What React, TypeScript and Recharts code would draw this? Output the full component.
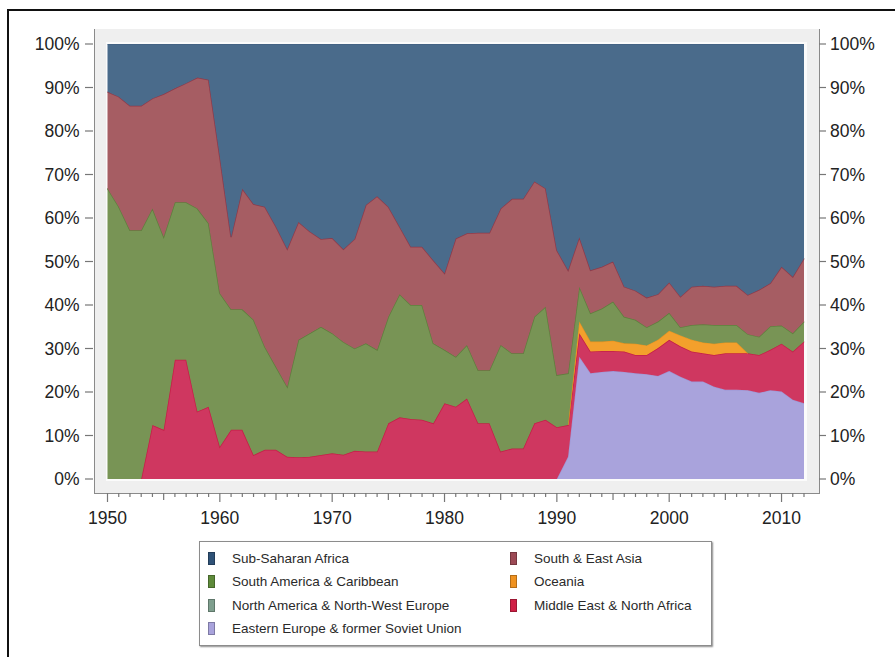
import React from 'react';
import { AreaChart, Area, XAxis, YAxis } from 'recharts';

const years = [
  1950, 1951, 1952, 1953, 1954, 1955, 1956, 1957, 1958, 1959,
  1960, 1961, 1962, 1963, 1964, 1965, 1966, 1967, 1968, 1969,
  1970, 1971, 1972, 1973, 1974, 1975, 1976, 1977, 1978, 1979,
  1980, 1981, 1982, 1983, 1984, 1985, 1986, 1987, 1988, 1989,
  1990, 1991, 1992, 1993, 1994, 1995, 1996, 1997, 1998, 1999,
  2000, 2001, 2002, 2003, 2004, 2005, 2006, 2007, 2008, 2009,
  2010, 2011, 2012,
];

const N = null;

// Eastern Europe & former Soviet Union
const easternEurope = [
  N, N, N, N, N, N, N, N, N, N,
  N, N, N, N, N, N, N, N, N, N,
  N, N, N, N, N, N, N, N, N, N,
  N, N, N, N, N, N, N, N, N, N,
  0, 5.1, 28.1, 24.3, 24.6, 24.8, 24.6, 24.3, 24.1, 23.7,
  24.8, 23.5, 22.4, 22.4, 21.2, 20.5, 20.5, 20.4, 19.8, 20.4,
  20.1, 18.2, 17.4,
];

// Middle East & North Africa
const middleEast = [
  N, N, N, 0, 12.4, 11.3, 27.4, 27.4, 15.5, 16.6,
  7.4, 11.3, 11.3, 5.5, 6.7, 6.7, 5.1, 5.0, 5.1, 5.5,
  5.9, 5.6, 6.5, 6.3, 6.3, 12.8, 14.2, 13.8, 13.6, 12.8,
  17.4, 16.6, 18.5, 12.8, 12.8, 6.3, 7.0, 7.0, 12.8, 13.6,
  11.9, 7.3, 5.4, 5.0, 4.8, 4.6, 4.7, 4.2, 4.4, 6.4,
  7.2, 7.0, 6.9, 6.5, 7.3, 8.4, 8.4, 8.5, 8.7, 9.3,
  11.0, 11.1, 14.2,
];

// Oceania
const oceania = [
  N, N, N, N, N, N, N, N, N, N,
  N, N, N, N, N, N, N, N, N, N,
  N, N, N, N, N, N, N, N, N, N,
  N, N, N, N, N, N, N, N, N, N,
  N, 0, 2.7, 2.3, 2.2, 2.4, 1.9, 2.6, 2.2, 1.9,
  2.1, 2.5, 2.7, 2.5, 2.6, 2.5, 2.5, 0, N, N,
  N, N, N,
];

// North America & North-West Europe
const northAmerica = [
  0, 0, 0, 0, 0, 0, 0, 0, 0, 0,
  0, 0, 0, 0, 0, 0, 0, 0, 0, 0,
  0, 0, 0, 0, 0, 0, 0, 0, 0, 0,
  0, 0, 0, 0, 0, 0, 0, 0, 0, 0,
  0, 0, 0, 0, 0, 0, 0, 0, 0, 0,
  0, 0, 0, 0, 0, 0, 0, 0, 0, 0,
  0, 0, 0,
];

// South America & Caribbean
const southAmerica = [
  66.8, 62.6, 57.2, 57.2, 49.8, 44.4, 36.2, 36.2, 46.7, 42.2,
  35.3, 27.7, 27.7, 31.1, 23.7, 19.1, 16.1, 27.0, 28.4, 29.5,
  27.6, 25.9, 23.5, 24.9, 23.4, 24.5, 28.3, 26.2, 26.4, 18.4,
  12.3, 11.5, 12.3, 12.2, 12.2, 24.5, 21.9, 21.9, 24.5, 26.0,
  12.0, 11.9, 8.0, 6.5, 7.6, 9.0, 6.1, 5.5, 4.2, 4.2,
  4.1, 1.9, 3.4, 4.2, 4.3, 4.0, 4.0, 4.4, 4.2, 5.4,
  4.2, 4.2, 4.6,
];

// South & East Asia
const southEastAsia = [
  22.2, 25.3, 28.6, 28.6, 25.3, 32.8, 26.2, 27.4, 30.1, 33.0,
  31.3, 16.6, 27.7, 26.6, 32.2, 32.2, 31.7, 27.1, 23.4, 20.2,
  21.9, 21.3, 25.2, 31.8, 35.3, 25.3, 15.5, 13.4, 13.4, 19.1,
  17.6, 27.2, 25.7, 31.6, 31.6, 31.4, 35.5, 35.5, 31.1, 27.2,
  28.7, 23.7, 11.4, 9.9, 9.6, 9.2, 6.9, 6.7, 6.8, 6.3,
  7.0, 7.0, 8.8, 8.8, 8.8, 9.0, 9.0, 9.0, 10.8, 9.9,
  13.5, 13.0, 14.5,
];

// Sub-Saharan Africa
const subSaharan = [
  11.0, 12.1, 14.2, 14.2, 12.5, 11.5, 10.2, 9.0, 7.7, 8.2,
  26.0, 44.4, 33.3, 36.8, 37.4, 42.0, 47.1, 40.9, 43.1, 44.8,
  44.6, 47.2, 44.8, 37.0, 35.0, 37.4, 42.0, 46.6, 46.6, 49.7,
  52.7, 44.7, 43.5, 43.4, 43.4, 37.8, 35.6, 35.6, 31.6, 33.2,
  47.4, 52.0, 44.4, 52.0, 51.2, 50.0, 55.8, 56.7, 58.3, 57.5,
  54.8, 58.1, 55.8, 55.6, 55.8, 55.6, 55.6, 57.7, 56.5, 55.0,
  51.2, 53.5, 49.3,
];

const yTicks = [0, 10, 20, 30, 40, 50, 60, 70, 80, 90, 100];

// bottom-to-top stacking order
const series = [
  { key: 'ee', name: 'Eastern Europe & former Soviet Union', values: easternEurope, fill: '#a9a3dc', stroke: '#9d97d6', sw: 1.2 },
  { key: 'mena', name: 'Middle East & North Africa', values: middleEast, fill: '#cf3760', stroke: '#c51f47', sw: 1.5 },
  { key: 'oc', name: 'Oceania', values: oceania, fill: '#f3a02c', stroke: '#ea921c', sw: 1.2 },
  { key: 'na', name: 'North America & North-West Europe', values: northAmerica, fill: '#7f9f8e', stroke: 'none', sw: 0 },
  { key: 'sa', name: 'South America & Caribbean', values: southAmerica, fill: '#789455', stroke: '#5f7f3d', sw: 1.5 },
  { key: 'sea', name: 'South & East Asia', values: southEastAsia, fill: '#a65d63', stroke: '#8f3a4a', sw: 1.5 },
  { key: 'ssa', name: 'Sub-Saharan Africa', values: subSaharan, fill: '#4a6b8b', stroke: '#3e5d7e', sw: 1 },
];

const legendLeft = ['ssa', 'sa', 'na', 'ee'];
const legendRight = ['sea', 'oc', 'mena'];
const legendSwatch: Record<string, string> = {
  ssa: '#2f5277',
  sa: '#5e8a3a',
  na: '#7f9f8e',
  ee: '#a9a3dc',
  sea: '#9c4a55',
  oc: '#ef9220',
  mena: '#cf1f45',
};

const data = years.map((year, i) => {
  const row: Record<string, number | null> = { year };
  series.forEach((s) => {
    row[s.key] = s.values[i];
  });
  return row;
});

const FONT = '"Liberation Sans", Arial, sans-serif';

const LeftTick = (props: any) => {
  const { x, y, payload } = props;
  return (
    <g>
      <line x1={x - 22.5} x2={x - 14.5} y1={y} y2={y} stroke="#777" strokeWidth={1.2} />
      <text x={x - 28} y={y} dy="0.36em" textAnchor="end" fontSize={17.5} fontFamily={FONT} fill="#222">
        {payload.value}%
      </text>
    </g>
  );
};

const RightTick = (props: any) => {
  const { x, y, payload } = props;
  return (
    <g>
      <line x1={x + 15} x2={x + 22} y1={y} y2={y} stroke="#777" strokeWidth={1.2} />
      <text x={x + 26} y={y} dy="0.36em" textAnchor="start" fontSize={17.5} fontFamily={FONT} fill="#222">
        {payload.value}%
      </text>
    </g>
  );
};

const BottomTick = (props: any) => {
  const { x, y, payload } = props;
  const v = payload.value as number;
  const major = v % 10 === 0;
  const mid = v % 5 === 0;
  const len = major ? 9 : mid ? 7 : 4;
  return (
    <g>
      <line x1={x} x2={x} y1={y + 14} y2={y + 14 + len} stroke="#777" strokeWidth={1.2} />
      {major && (
        <text x={x} y={y + 39} dy="0.36em" textAnchor="middle" fontSize={17.5} fontFamily={FONT} fill="#222">
          {v}
        </text>
      )}
    </g>
  );
};

const byKey = (k: string) => series.find((s) => s.key === k)!;

const LegendItem = ({ k, left, top }: { k: string; left: number; top: number }) => (
  <div style={{ position: 'absolute', left, top, height: 20, display: 'flex', alignItems: 'center' }}>
    <div
      style={{
        width: 5,
        height: 11,
        background: legendSwatch[k],
        border: '0.5px solid rgba(0,0,0,0.25)',
        marginRight: 17,
      }}
    />
    <span style={{ fontFamily: FONT, fontSize: 13.5, color: '#2a2a2a', whiteSpace: 'nowrap' }}>{byKey(k).name}</span>
  </div>
);

export default function App() {
  return (
    <div style={{ position: 'absolute', left: 0, top: 0, width: 895, height: 657, overflow: 'hidden', background: '#fff' }}>
      {/* outer frame */}
      <div
        style={{
          position: 'absolute',
          left: 7,
          top: 9,
          width: 900,
          height: 660,
          borderLeft: '2px solid #111',
          borderTop: '2px solid #111',
          boxSizing: 'border-box',
        }}
      />
      {/* grey plot panel */}
      <div
        style={{
          position: 'absolute',
          left: 94,
          top: 29,
          width: 726,
          height: 465,
          background: '#efefef',
          borderLeft: '1.5px solid #8a8a8a',
          borderRight: '1.5px solid #8a8a8a',
          borderBottom: '1.5px solid #8a8a8a',
          boxSizing: 'border-box',
        }}
      />
      <div
        style={{
          position: 'absolute',
          left: 105.5,
          top: 42,
          width: 701,
          height: 439,
          background: '#fbfbfb',
        }}
      />
      <div style={{ position: 'absolute', left: 0, top: 0 }}>
        <AreaChart width={895} height={657} data={data} margin={{ top: 44, right: 31, bottom: 118, left: 47.5 }}>
          <XAxis
            dataKey="year"
            type="number"
            domain={[1950, 2012]}
            ticks={years}
            interval={0}
            height={60}
            axisLine={false}
            tickLine={false}
            tickSize={0}
            tickMargin={0}
            tick={<BottomTick />}
          />
          <YAxis
            yAxisId="left"
            orientation="left"
            domain={[0, 100]}
            ticks={yTicks}
            interval={0}
            allowDataOverflow
            width={60}
            axisLine={false}
            tickLine={false}
            tickSize={0}
            tickMargin={0}
            tick={<LeftTick />}
          />
          <YAxis
            yAxisId="right"
            orientation="right"
            domain={[0, 100]}
            ticks={yTicks}
            interval={0}
            allowDataOverflow
            width={60}
            axisLine={false}
            tickLine={false}
            tickSize={0}
            tickMargin={0}
            tick={<RightTick />}
          />
          {series.map((s) => (
            <Area
              key={s.key}
              yAxisId="left"
              type="linear"
              dataKey={s.key}
              name={s.name}
              stackId="share"
              fill={s.fill}
              fillOpacity={1}
              stroke={s.stroke}
              strokeWidth={s.sw}
              dot={false}
              activeDot={false}
              isAnimationActive={false}
            />
          ))}
        </AreaChart>
      </div>
      {/* legend */}
      <div
        style={{
          position: 'absolute',
          left: 199,
          top: 541,
          width: 513,
          height: 105,
          background: '#fff',
          border: '1px solid #8c8c8c',
          boxShadow: '1px 1px 1.5px rgba(0,0,0,0.45)',
          boxSizing: 'border-box',
        }}
      >
        {legendLeft.map((k, i) => (
          <LegendItem key={k} k={k} left={8} top={6 + i * 23.5} />
        ))}
        {legendRight.map((k, i) => (
          <LegendItem key={k} k={k} left={310} top={6 + i * 23.5} />
        ))}
      </div>
    </div>
  );
}
